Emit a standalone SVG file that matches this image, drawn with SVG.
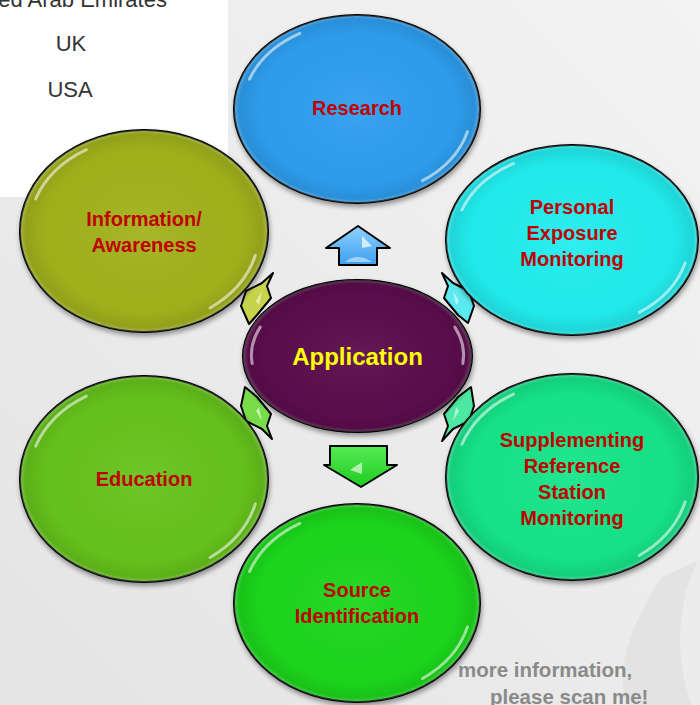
<svg xmlns="http://www.w3.org/2000/svg" xmlns:xlink="http://www.w3.org/1999/xlink" width="700" height="705" viewBox="0 0 700 705">
<defs>
<linearGradient id="bg" x1="1" y1="0" x2="0" y2="1">
<stop offset="0" stop-color="#f3f3f3"/>
<stop offset="1" stop-color="#e4e4e4"/>
</linearGradient>
<radialGradient id="rim" cx="0.5" cy="0.5" r="0.5">
<stop offset="0" stop-color="#fff" stop-opacity="0.06"/>
<stop offset="0.8" stop-color="#000" stop-opacity="0.02"/>
<stop offset="0.95" stop-color="#000" stop-opacity="0.1"/>
<stop offset="1" stop-color="#fff" stop-opacity="0.25"/>
</radialGradient>
<linearGradient id="upG" x1="0" y1="0" x2="0" y2="1">
<stop offset="0" stop-color="#8fd0ff"/>
<stop offset="1" stop-color="#3d9ff0"/>
</linearGradient>
<linearGradient id="dnG" x1="0" y1="0" x2="0" y2="1">
<stop offset="0" stop-color="#55ea55"/>
<stop offset="1" stop-color="#1fcc1f"/>
</linearGradient>
<filter id="sh" x="-10%" y="-10%" width="120%" height="125%">
<feDropShadow dx="1" dy="3" stdDeviation="2.5" flood-color="#000" flood-opacity="0.4"/>
</filter>
<path id="glA" class="gloss" d="M -0.874,-0.318 A 0.93 0.93 0 0 1 -0.465,-0.805"/>
<path id="glB" class="gloss" d="M 0.898,0.241 A 0.93 0.93 0 0 1 0.533,0.762"/>
<path id="glL" class="gloss" d="M -0.92,0.1 A 0.93 0.93 0 0 1 -0.85,-0.38"/>
<path id="glR" class="gloss" d="M 0.85,-0.38 A 0.93 0.93 0 0 1 0.92,0.1"/>
<style>
.blob{stroke:#000;stroke-width:2;filter:url(#sh)}
.rim{fill:url(#rim);stroke:none}
.gloss{fill:none;stroke:#fff;stroke-width:3;stroke-opacity:0.55;stroke-linecap:round;vector-effect:non-scaling-stroke}
.lbl{font-family:"Liberation Sans",Arial,sans-serif;font-weight:bold;font-size:20px;fill:#c00000;text-anchor:middle}
.app{font-family:"Liberation Sans",Arial,sans-serif;font-weight:bold;font-size:24px;fill:#ffff00;text-anchor:middle}
.side{font-family:"Liberation Sans",Arial,sans-serif;font-size:22px;fill:#333333;text-anchor:middle}
.note{font-family:"Liberation Sans",Arial,sans-serif;font-weight:bold;font-size:20.5px;fill:#8a8a8a}
.arr{stroke:#000;stroke-width:2;stroke-linejoin:round}
.hl{fill:#fff;opacity:0.55;stroke:none}
</style>
</defs>

<rect width="700" height="705" fill="url(#bg)"/>
<path d="M 662,577 Q 612,650 626,705 L 700,705 L 700,560 Z" fill="#e0e0e0" opacity="0.7"/>
<ellipse cx="760" cy="640" rx="80" ry="125" fill="#eeeeee" opacity="0.8"/>
<rect x="0" y="0" width="228" height="197" fill="#ffffff"/>

<g id="side-text">
<text class="side" x="63" y="7">United Arab Emirates</text>
<text class="side" x="71" y="51">UK</text>
<text class="side" x="70" y="97">USA</text>
</g>

<g id="note">
<text class="note" x="458" y="677">more information,</text>
<text class="note" x="490" y="704">please scan me!</text>
</g>

<g id="connectors">
<polygon class="arr" fill="url(#upG)" points="358,226 390,248 377,248 377,265 339,265 339,248 326,248"/>
<path d="M 362,236 L 372,246 L 362,248 Z" fill="#fff" opacity="0.7"/>
<path d="M 345,262 Q 357,252 372,262 Z" fill="#d8f0ff" opacity="0.6"/>
<polygon class="arr" fill="url(#dnG)" points="330,446 387,446 387,465 397,465 361,487 324,465 330,465"/>
<path d="M 350,470 L 362,462 L 362,474 Z" fill="#fff" opacity="0.6"/>
<polygon class="arr" fill="#c6d44c" points="273,273 267,286 271,298 257,315 249,324 241,306 246,291 262,283"/>
<polygon class="arr" fill="#5ae9ee" points="442,273 448,286 444,298 458,315 468,323 474,306 469,291 453,283"/>
<polygon class="arr" fill="#78dc48" points="272,439 267,426 271,414 257,397 245,387 241,406 246,421 262,429"/>
<polygon class="arr" fill="#4ce8a2" points="442,441 448,426 444,414 458,397 471,387 474,406 469,421 453,429"/>
<path class="hl" d="M 256,301 L 262,291 L 259,305 Z"/>
<path class="hl" d="M 459,301 L 453,291 L 456,305 Z"/>
<path class="hl" d="M 256,411 L 262,421 L 259,407 Z"/>
<path class="hl" d="M 459,411 L 453,421 L 456,407 Z"/>
</g>

<g id="n-research" transform="translate(357,109)">
<ellipse class="blob" rx="123" ry="94" fill="#2f9ff0"/>
<ellipse class="rim" rx="123" ry="94"/>
<use href="#glA" transform="scale(123,94)"/>
<use href="#glB" transform="scale(123,94)"/>
<text class="lbl" x="0" y="6">Research</text>
</g>

<g id="n-personal" transform="translate(572,240)">
<ellipse class="blob" rx="126" ry="95" fill="#20eef0"/>
<ellipse class="rim" rx="126" ry="95"/>
<use href="#glA" transform="scale(126,95)"/>
<use href="#glB" transform="scale(126,95)"/>
<text class="lbl" x="0" y="-26">Personal</text>
<text class="lbl" x="0" y="0">Exposure</text>
<text class="lbl" x="0" y="26">Monitoring</text>
</g>

<g id="n-info" transform="translate(144,231)">
<ellipse class="blob" rx="124" ry="101" fill="#a2b31d"/>
<ellipse class="rim" rx="124" ry="101"/>
<use href="#glA" transform="scale(124,101)"/>
<use href="#glB" transform="scale(124,101)"/>
<text class="lbl" x="0" y="-5">Information/</text>
<text class="lbl" x="0" y="21">Awareness</text>
</g>

<g id="n-application" transform="translate(357.5,356)">
<ellipse class="blob" rx="114.5" ry="76" fill="#5c0c4e"/>
<ellipse class="rim" rx="114.5" ry="76"/>
<use href="#glL" transform="scale(114.5,76)"/>
<use href="#glR" transform="scale(114.5,76)"/>
<text class="app" x="0" y="9">Application</text>
</g>

<g id="n-education" transform="translate(144,479)">
<ellipse class="blob" rx="124" ry="103" fill="#66c41a"/>
<ellipse class="rim" rx="124" ry="103"/>
<use href="#glA" transform="scale(124,103)"/>
<use href="#glB" transform="scale(124,103)"/>
<text class="lbl" x="0" y="7">Education</text>
</g>

<g id="n-supplementing" transform="translate(572,477)">
<ellipse class="blob" rx="126" ry="103" fill="#17e68a"/>
<ellipse class="rim" rx="126" ry="103"/>
<use href="#glA" transform="scale(126,103)"/>
<use href="#glB" transform="scale(126,103)"/>
<text class="lbl" x="0" y="-30">Supplementing</text>
<text class="lbl" x="0" y="-4">Reference</text>
<text class="lbl" x="0" y="22">Station</text>
<text class="lbl" x="0" y="48">Monitoring</text>
</g>

<g id="n-source" transform="translate(357,603)">
<ellipse class="blob" rx="123" ry="99" fill="#1ad81e"/>
<ellipse class="rim" rx="123" ry="99"/>
<use href="#glA" transform="scale(123,99)"/>
<use href="#glB" transform="scale(123,99)"/>
<text class="lbl" x="0" y="-6">Source</text>
<text class="lbl" x="0" y="20">Identification</text>
</g>
</svg>
